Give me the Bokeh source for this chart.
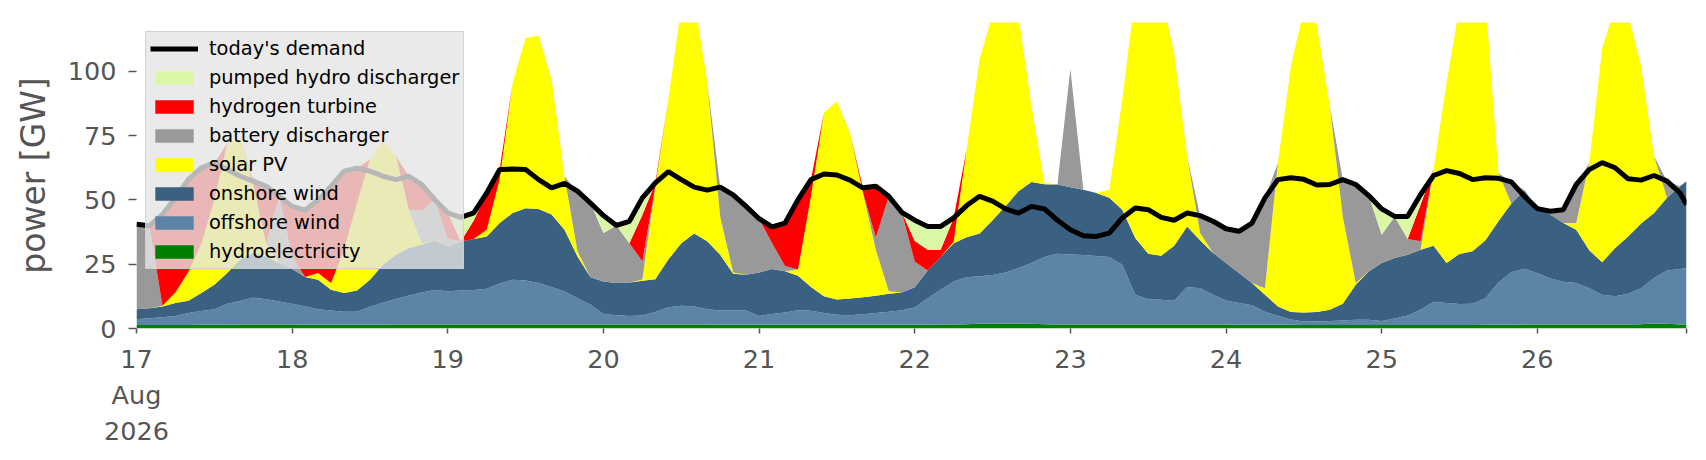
import pandas as pd
from bokeh.plotting import figure
from bokeh.models import ColumnDataSource, Legend, LegendItem, FixedTicker, Range1d
from bokeh.embed import file_html
from bokeh.resources import INLINE

# ---------------- data (GW), 2-hourly from 17 Aug 2026 00:00, last point 26 Aug 23:00
start = pd.Timestamp("2026-08-17 00:00")
hours = list(range(0, 240, 2)) + [239]

hydroelectricity = [
    1.4, 1.4, 1.4, 1.4, 1.4, 1.5, 1.5, 1.5, 1.6, 1.6, 1.6, 1.6,
    1.6, 1.5, 1.5, 1.5, 1.5, 1.5, 1.5, 1.5, 1.6, 1.6, 1.6, 1.6,
    1.6, 1.6, 1.6, 1.6, 1.6, 1.6, 1.6, 1.6, 1.6, 1.6, 1.6, 1.6,
    1.6, 1.6, 1.6, 1.6, 1.6, 1.6, 1.6, 1.6, 1.6, 1.5, 1.5, 1.5,
    1.5, 1.5, 1.5, 1.5, 1.5, 1.5, 1.5, 1.5, 1.5, 1.5, 1.5, 1.5,
    1.5, 1.5, 1.6, 1.6, 1.7, 1.8, 1.9, 1.9, 1.9, 1.8, 1.7, 1.6,
    1.6, 1.6, 1.6, 1.6, 1.6, 1.6, 1.6, 1.6, 1.6, 1.6, 1.6, 1.6,
    1.6, 1.5, 1.5, 1.5, 1.5, 1.5, 1.4, 1.4, 1.4, 1.4, 1.4, 1.4,
    1.4, 1.4, 1.4, 1.4, 1.4, 1.4, 1.4, 1.4, 1.5, 1.5, 1.5, 1.6,
    1.6, 1.6, 1.6, 1.6, 1.6, 1.6, 1.6, 1.6, 1.7, 1.9, 1.8, 1.6, 1.6]

offshore_wind = [
    2.2, 2.6, 3.0, 3.5, 4.6, 5.3, 6.0, 8.1, 9.2, 10.4, 9.8, 8.9,
    8.0, 7.1, 6.0, 5.5, 5.0, 5.0, 7.0, 8.5, 9.9, 11.2, 12.4, 13.4,
    12.9, 13.2, 13.4, 13.9, 15.9, 17.4, 17.1, 16.1, 14.5, 12.8, 10.2, 7.6,
    4.0, 3.6, 3.3, 3.5, 4.8, 6.7, 7.2, 7.0, 5.9, 5.5, 5.5, 5.5,
    3.4, 4.1, 4.7, 5.6, 5.4, 4.5, 3.8, 3.7, 4.0, 4.5, 5.0, 5.6,
    6.7, 10.3, 13.5, 16.7, 18.2, 18.5, 18.9, 19.9, 21.6, 23.7, 26.1, 27.5,
    27.2, 27.0, 26.6, 26.2, 23.2, 11.5, 9.8, 9.6, 9.2, 14.5, 14.1, 11.5,
    9.3, 8.4, 7.5, 5.0, 3.5, 2.0, 1.3, 1.3, 1.5, 1.7, 2.0, 2.0,
    1.5, 2.5, 3.7, 5.9, 9.0, 8.5, 8.1, 8.2, 10.3, 16.4, 20.4, 21.6,
    20.0, 17.8, 16.6, 16.1, 14.1, 11.5, 10.9, 11.9, 14.0, 17.7, 20.8, 21.5, 21.9]

onshore_wind = [
    3.9, 3.9, 4.2, 5.0, 4.8, 7.0, 9.5, 12.0, 16.0, 17.4, 16.6, 15.0,
    13.5, 11.4, 11.5, 8.1, 7.3, 8.3, 10.5, 14.8, 17.2, 18.5, 18.6, 19.3,
    17.4, 19.0, 19.8, 20.3, 23.5, 25.9, 28.1, 28.8, 28.2, 24.0, 16.2, 10.7,
    12.7, 12.5, 13.0, 13.5, 12.8, 18.5, 24.4, 28.3, 26.4, 21.7, 14.3, 13.9,
    16.9, 17.5, 16.1, 13.4, 9.2, 6.5, 6.0, 6.5, 6.7, 6.7, 7.0, 6.9,
    7.8, 10.8, 12.7, 14.9, 15.6, 16.6, 21.3, 25.7, 29.9, 31.5, 28.3, 26.9,
    26.1, 25.4, 24.5, 23.0, 21.4, 22.1, 17.7, 17.1, 21.4, 23.6, 18.6, 16.3,
    14.6, 11.7, 8.7, 6.6, 3.6, 2.9, 3.5, 3.7, 4.4, 6.5, 13.6, 18.8,
    22.6, 23.5, 23.6, 23.3, 21.8, 15.6, 19.5, 20.4, 22.5, 23.8, 26.7, 30.6,
    25.3, 24.9, 22.8, 20.7, 14.7, 12.7, 18.8, 22.3, 25.1, 25.3, 28.2, 32.2, 33.8]

solar_pv = [
    0, 0, 0.2, 4.1, 11.2, 19.2, 33.0, 50.4, 47.2, 26.6, 5.0, 0,
    0, 0, 2.6, 2.6, 16.8, 34.0, 46.7, 47.7, 38.3, 14.9, 0.5, 0,
    0, 0, 0, 2.6, 17.0, 50.7, 66.2, 67.3, 52.6, 20.6, 2.0, 0,
    0, 0, 0, 0.5, 36.1, 62.2, 91.8, 91.1, 62.1, 14.9, 0.5, 0,
    0, 0, 0, 2.4, 35.3, 71.4, 77.1, 64.4, 40.8, 17.9, 1.0, 0,
    0, 0, 0, 0.5, 34.1, 67.8, 80.0, 77.0, 68.0, 29.5, 0.5, 0,
    0, 0, 0, 3.2, 42.8, 94.8, 105.9, 101.7, 74.8, 27.3, 2.8, 0,
    0, 0, 0, 2.6, 55.8, 95.6, 117.8, 111.6, 79.2, 34.0, 0.7, 0,
    0, 0, 0, 0, 29.6, 70.1, 96.0, 100.0, 93.7, 18.8, 0, 0,
    0, 0, 0, 2.6, 34.0, 83.2, 93.7, 86.2, 61.2, 22.1, 0, 0, 0]

battery_discharger = [
    33.0, 32.1, 0, 0, 0, 0, 0, 0, 0, 0, 0, 25.9,
    5.0, 0, 0, 0, 0, 0, 0, 0, 0, 0, 12.9, 15.8,
    3.0, 0, 0, 0, 0, 0, 0, 0, 0, 0, 23.4, 28.9,
    18.8, 22.4, 15.3, 7.0, 0, 0, 0, 0, 0, 11.4, 30.2, 26.6,
    20.9, 10.1, 2.0, 0, 0, 0, 0, 0, 0, 4.7, 36.9, 31.2,
    10.0, 0, 0, 0, 0, 0, 0, 0, 0, 0, 0, 0,
    46.0, 0, 0, 0, 0, 0, 0, 0, 0, 0, 6.8, 12.3,
    13.3, 16.2, 23.3, 35.1, 0, 0, 0, 0, 0, 14.3, 38.3, 29.5,
    11.0, 16.2, 6.1, 3.3, 0, 0, 0, 0, 0, 0, 8.4, 0,
    0, 1.3, 5.2, 15.0, 0, 0, 0, 0, 0, 0, 6.5, 0, 0]

hydrogen_turbine = [
    0, 0, 35.5, 36.8, 36.0, 29.5, 14.4, 0, 0, 1.3, 22.3, 0,
    19.4, 26.0, 28.4, 37.6, 30.6, 13.5, 0, 0, 0, 13.0, 10.0, 0,
    10.1, 0, 7.2, 14.3, 3.8, 0, 0, 0, 0, 0, 0, 0,
    0, 0, 0, 18.0, 1.3, 0, 0, 0, 0, 0, 0, 0,
    0, 6.3, 16.7, 27.2, 6.5, 0, 0, 0, 1.7, 20.0, 0, 0,
    8.0, 8.0, 2.8, 9.3, 0, 0, 0, 0, 0, 0, 0, 0,
    0, 0, 0, 0, 0, 0, 0, 0, 0, 0, 0, 0,
    0, 0, 0, 0, 0, 0, 0, 0, 0, 0, 0, 0,
    0, 0, 0, 14.3, 0, 0, 0, 0, 0, 0, 0, 0,
    0, 0, 0, 0, 0, 0, 0, 0, 0, 0, 0, 0, 0]

pumped_hydro_discharger = [
    0, 0, 0, 0, 0, 0, 0, 0, 0, 0, 0, 0,
    0, 0, 0, 0, 0, 0, 0, 0, 0, 0, 0, 0,
    0, 9.4, 3.0, 0, 0, 0, 0, 0, 0, 0, 0, 0,
    6.8, 0, 8.5, 6.7, 0, 0, 0, 0, 0, 0, 0, 0,
    0, 0, 0, 0, 0, 0, 0, 0, 0, 0, 0, 0,
    8.1, 9.1, 9.1, 0, 0, 0, 0, 0, 0, 0, 0, 0,
    0, 0, 0, 0, 0, 0, 0, 0, 0, 0, 0, 0,
    0, 0, 0, 0, 0, 0, 0, 0, 0, 0, 0, 0,
    10.0, 0, 8.8, 3.9, 0, 0, 0, 0, 0, 0, 0, 0,
    0, 0, 0, 0, 0, 0, 0, 0, 0, 0, 0, 0, 0]

todays_demand = [
    40.5, 40.0, 44.3, 50.8, 58.0, 62.5, 64.4, 61.8, 59.2, 57.3, 55.3, 51.4,
    47.5, 46.0, 50.0, 55.3, 61.2, 62.3, 61.2, 59.2, 57.9, 59.2, 56.0, 50.1,
    45.0, 43.2, 45.0, 52.7, 61.8, 62.0, 61.8, 57.9, 54.7, 56.4, 53.4, 48.8,
    43.9, 40.1, 41.7, 50.8, 56.6, 61.0, 57.9, 55.0, 53.8, 55.0, 52.0, 47.5,
    42.7, 39.5, 41.0, 50.1, 57.9, 60.1, 59.7, 57.7, 54.7, 55.3, 51.4, 45.2,
    42.1, 39.7, 39.7, 43.0, 47.8, 51.4, 49.5, 46.5, 44.9, 47.5, 46.5, 42.1,
    38.4, 36.1, 35.8, 37.1, 43.0, 46.9, 46.2, 43.2, 42.1, 44.9, 43.9, 41.7,
    38.8, 37.8, 41.0, 50.8, 57.9, 58.6, 58.0, 55.8, 56.0, 57.9, 56.0, 51.7,
    46.5, 43.6, 43.6, 52.1, 59.5, 61.4, 60.3, 57.9, 58.6, 58.4, 57.0, 51.4,
    46.6, 45.6, 46.2, 56.0, 61.8, 64.5, 62.5, 58.2, 57.7, 59.5, 57.3, 52.7, 48.2]

# stacking order bottom -> top
carriers = ["hydroelectricity", "offshore wind", "onshore wind", "solar PV",
            "battery discharger", "hydrogen turbine", "pumped hydro discharger"]
colors = ["#008000", "#5c84a6", "#3b6182", "#ffff00", "#999999", "#ff0000", "#daf7a6"]

y_ticks = [0, 25, 50, 75, 100]
x_tick_labels = ["17\nAug\n2026", "18", "19", "20", "21", "22", "23", "24", "25", "26", ""]

# ---------------- build
time = [start + pd.Timedelta(hours=h) for h in hours]
keys = ["c%d" % i for i in range(len(carriers))]
series = [hydroelectricity, offshore_wind, onshore_wind, solar_pv,
          battery_discharger, hydrogen_turbine, pumped_hydro_discharger]
data = {"time": time, "demand": todays_demand}
for k, s in zip(keys, series):
    data[k] = s
src = ColumnDataSource(data)

FONT = "DejaVu Sans"
GRAY = "#555555"

p = figure(width=1698, height=452, x_axis_type="datetime",
           output_backend="svg", toolbar_location=None,
           x_range=Range1d(time[0], time[-1]), y_range=Range1d(0, 119),
           min_border_left=136, min_border_right=12,
           min_border_top=22, min_border_bottom=124)
p.outline_line_color = None
p.grid.visible = False
p.background_fill_color = "white"

areas = p.varea_stack(stackers=keys, x="time", color=colors, source=src)
dline = p.line("time", "demand", source=src, color="black", line_width=5)

# axes
p.yaxis.ticker = FixedTicker(ticks=y_ticks)
p.yaxis.axis_label = "power [GW]"
p.yaxis.axis_label_text_font = FONT
p.yaxis.axis_label_text_font_size = "33px"
p.yaxis.axis_label_text_font_style = "normal"
p.yaxis.axis_label_text_color = GRAY
p.yaxis.axis_label_standoff = 12
p.yaxis.major_label_standoff = 12

tick_ms = [(start + pd.Timedelta(days=d)).timestamp() * 1000 for d in range(10)]
tick_ms.append(time[-1].timestamp() * 1000)
p.xaxis.ticker = FixedTicker(ticks=tick_ms)
p.xaxis.major_label_overrides = {t: lab for t, lab in zip(tick_ms, x_tick_labels)}
p.xaxis.major_label_standoff = 10

for ax in (p.xaxis, p.yaxis):
    ax.axis_line_color = None
    ax.major_tick_line_color = GRAY
    ax.major_tick_line_width = 1.5
    ax.major_tick_in = 0
    ax.minor_tick_line_color = None
    ax.major_label_text_font = FONT
    ax.major_label_text_font_size = "25.5px"
    ax.major_label_text_color = GRAY
p.yaxis.major_tick_out = 8
p.xaxis.major_tick_out = 5

# legend (top of stack first)
items = [LegendItem(label="today's demand", renderers=[dline])]
for name, r in reversed(list(zip(carriers, areas))):
    items.append(LegendItem(label=name, renderers=[r]))
legend = Legend(items=items, location="top_left", margin=9,
                padding=4, spacing=4, glyph_width=48, glyph_height=17,
                label_height=25, label_standoff=11,
                label_text_font=FONT, label_text_font_size="19.4px",
                label_text_color="black",
                background_fill_color="#e5e5e5", background_fill_alpha=0.8,
                border_line_color="#cccccc", border_line_alpha=0.8)
p.add_layout(legend)

open("out.html", "w").write(file_html(p, INLINE))
